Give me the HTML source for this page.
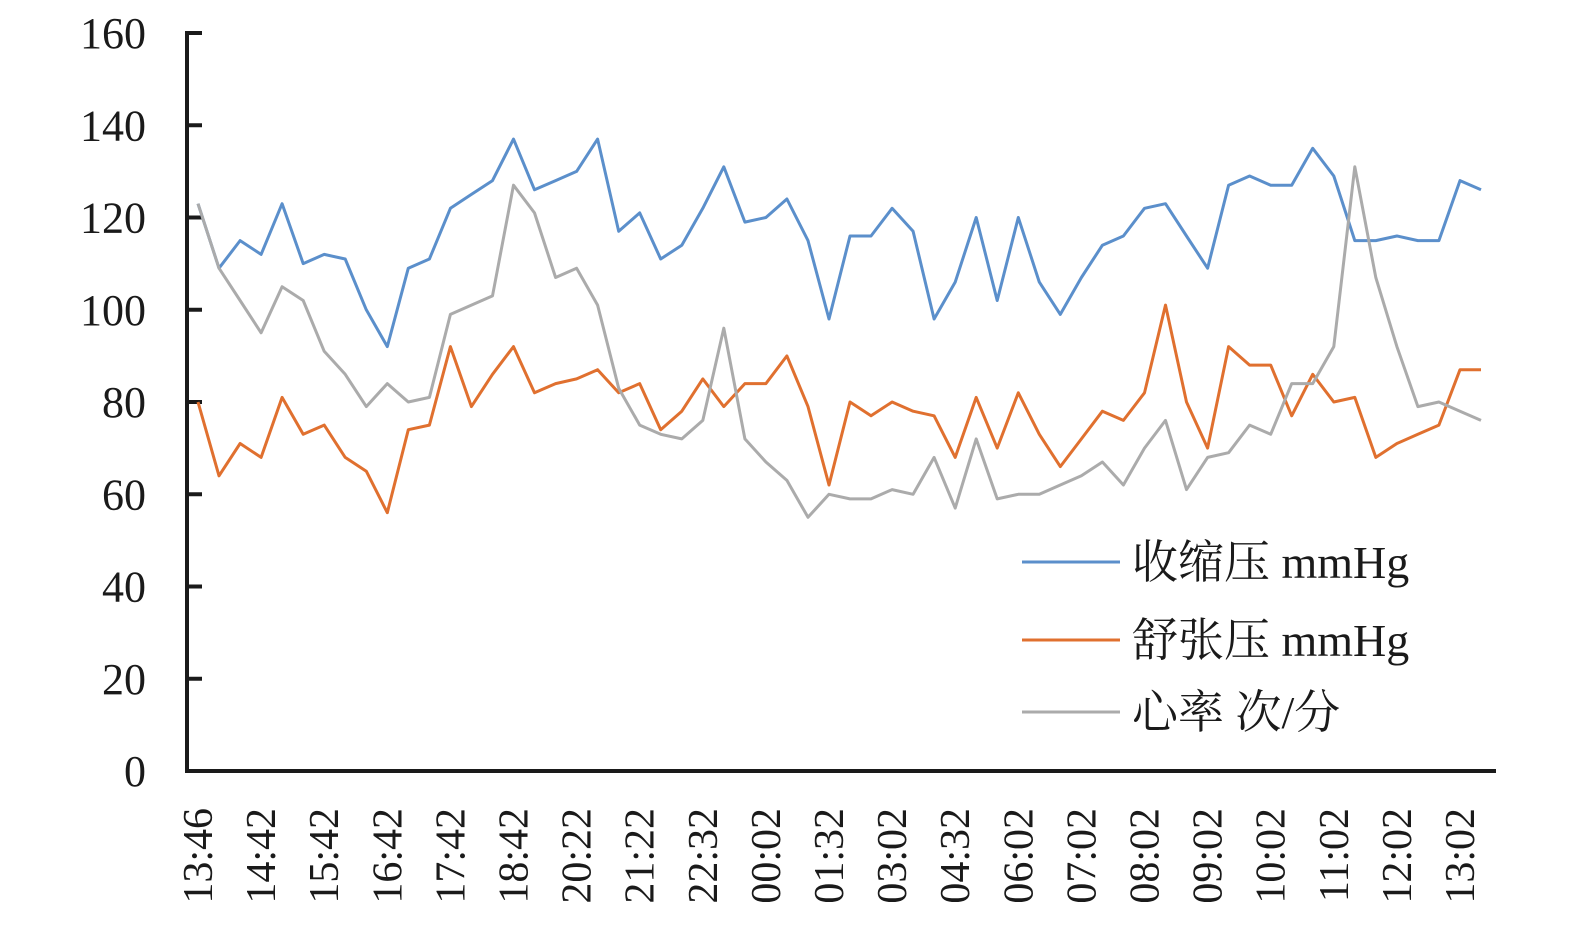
<!DOCTYPE html>
<html><head><meta charset="utf-8">
<style>
html,body{margin:0;padding:0;background:#fff;}
svg{display:block;}
text{font-family:"Liberation Serif","Noto Serif CJK SC",serif;fill:#1a1a1a;}
</style></head>
<body>
<svg id="chart" width="1575" height="934" xmlns="http://www.w3.org/2000/svg"></svg>
<script>
const timeLabels=["13:46","14:42","15:42","16:42","17:42","18:42","20:22","21:22","22:32","00:02","01:32","03:02","04:32","06:02","07:02","08:02","09:02","10:02","11:02","12:02","13:02"];
const yTicks=[0,20,40,60,80,100,120,140,160];
const systolic=[123,109,115,112,123,110,112,111,100,92,109,111,122,125,128,137,126,128,130,137,117,121,111,114,122,131,119,120,124,115,98,116,116,122,117,98,106,120,102,120,106,99,107,114,116,122,123,116,109,127,129,127,127,135,129,115,115,116,115,115,128,126];
const diastolic=[80,64,71,68,81,73,75,68,65,56,74,75,92,79,86,92,82,84,85,87,82,84,74,78,85,79,84,84,90,79,62,80,77,80,78,77,68,81,70,82,73,66,72,78,76,82,101,80,70,92,88,88,77,86,80,81,68,71,73,75,87,87];
const heartRate=[123,109,102,95,105,102,91,86,79,84,80,81,99,101,103,127,121,107,109,101,83,75,73,72,76,96,72,67,63,55,60,59,59,61,60,68,57,72,59,60,60,62,64,67,62,70,76,61,68,69,75,73,84,84,92,131,107,92,79,80,78,76];
const seriesNames=["收缩压 mmHg","舒张压 mmHg","心率 次/分"];
const seriesColors=["#5b8fcb","#e0702f","#ababab"];
const labelEvery=3;

const NS="http://www.w3.org/2000/svg";
const svg=document.getElementById('chart');
const x0=198,x1=1481,yBase=771,yTop=33,yMax=160;
const n=systolic.length;
const xs=i=>x0+(x1-x0)*i/(n-1);
const ys=v=>yBase-(yBase-yTop)*v/yMax;
function mk(tag,attrs){const e=document.createElementNS(NS,tag);for(const k in attrs)e.setAttribute(k,attrs[k]);svg.appendChild(e);return e;}

// y ticks & labels
yTicks.forEach(t=>{
  const y=ys(t);
  const tk=mk('line',{x1:187,x2:202,y1:y,y2:y,stroke:'#1a1a1a','stroke-width':4});
  
  
  const tx=mk('text',{x:146,y:y+15,'text-anchor':'end','font-size':44});
  tx.textContent=t;
  
  
});
// axes
const ya=mk('line',{x1:187,x2:187,y1:31,y2:773,stroke:'#1a1a1a','stroke-width':4});


const xa=mk('line',{x1:185,x2:1496,y1:771,y2:771,stroke:'#1a1a1a','stroke-width':4});



// x labels
timeLabels.forEach((lab,j)=>{
  const x=xs(j*labelEvery);
  const tx=mk('text',{x:0,y:0,'text-anchor':'end','font-size':42,transform:`translate(${x+14},808) rotate(-90)`});
  tx.textContent=lab;
  
  
});

// series
[systolic,diastolic,heartRate].forEach((arr,s)=>{
  const pts=arr.map((v,i)=>xs(i).toFixed(1)+','+ys(v).toFixed(1)).join(' ');
  const pl=mk('polyline',{points:pts,fill:'none',stroke:seriesColors[s],'stroke-width':3,'stroke-linejoin':'round'});
  
  
});

// legend
const legY=[562,640,712];
seriesNames.forEach((nm,s)=>{
  const ln=mk('line',{x1:1022,x2:1120,y1:legY[s],y2:legY[s],stroke:seriesColors[s],'stroke-width':3});
  
  
  const tx=mk('text',{x:1132,y:legY[s]+16,'font-size':46});
  tx.textContent=nm;
  
  
});
</script>
</body></html>
